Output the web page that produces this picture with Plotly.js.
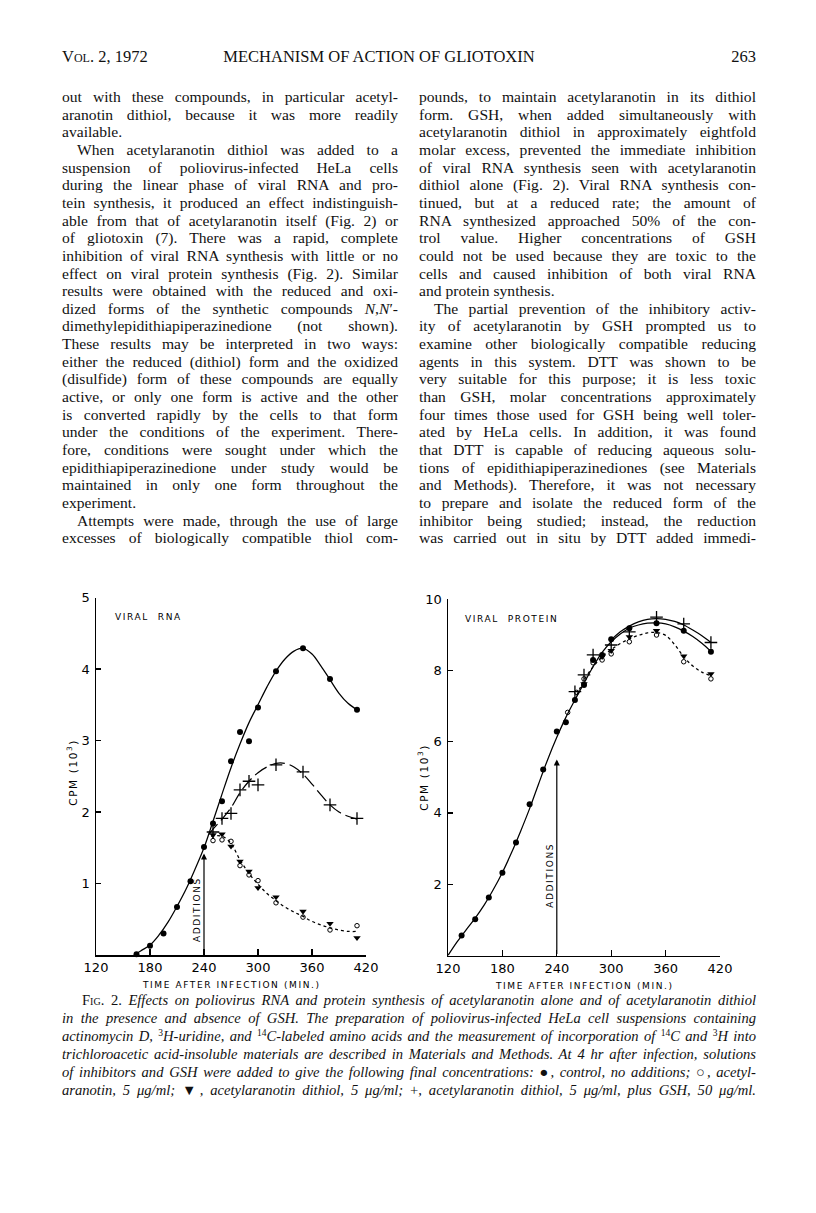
<!DOCTYPE html>
<html>
<head>
<meta charset="utf-8">
<script src="https://cdn.plot.ly/plotly-3.0.1.min.js"></script>
<style>
  html, body { margin:0; padding:0; background:#fff; }
  #page { position:relative; width:816px; height:1213px; overflow:hidden; background:#fff; }
  #plot { position:absolute; left:0; top:0; width:816px; height:1213px; }
  .ln { position:absolute; white-space:nowrap; font-family:'Liberation Serif','Times New Roman',serif; font-size:15.6px; line-height:17.6px; color:#111; text-align:justify; text-align-last:justify; box-sizing:border-box; }
  .ln.ind { padding-left:15px; }
  .ln.end { text-align-last:left; }
  .hdr { position:absolute; font-family:'Liberation Serif',serif; font-size:16.5px; color:#111; white-space:nowrap; }
  .cap { position:absolute; left:62px; width:694px; white-space:nowrap; font-family:'Liberation Serif',serif; font-style:italic; font-size:14.6px; line-height:18px; color:#111; text-align:justify; text-align-last:justify; box-sizing:border-box; }
  .cap sup { font-size:65%; line-height:0; vertical-align:0.5em; font-style:normal; }
  .sc { font-variant:small-caps; font-style:normal; }
  .up { font-style:normal; }
</style>
</head>
<body>
<div id="page">
  <div id="plot"></div>
  <div id="text"></div>
</div>
<script>
// ---------------- DATA: Viral RNA (left panel) ----------------
const rnaCtrlX = [165,180,195,210,225,240,250,260,270,280,290,300,320,350,380,410];
const rnaCtrlY = [0.01,0.13,0.30,0.67,1.03,1.51,1.84,2.15,2.71,3.12,2.99,3.46,3.97,4.29,3.86,3.43];
const rnaOpenX = [250,260,270,280,290,300,320,350,380,410];
const rnaOpenY = [1.60,1.61,1.59,1.25,1.12,1.04,0.73,0.53,0.35,0.41];
const rnaTriX  = [250,260,270,280,290,300,320,350,380,410];
const rnaTriY  = [1.68,1.69,1.52,1.31,1.17,0.94,0.81,0.61,0.44,0.24];
const rnaPlusX = [250,260,270,280,290,300,320,350,380,410];
const rnaPlusY = [1.72,1.91,1.98,2.31,2.43,2.38,2.66,2.56,2.10,1.91];
// hand-drawn curves
const rnaCtrlFitX = [163,170,180,190,200,210,220,230,240,250,260,270,280,290,300,310,320,330,340,350,360,370,380,390,400,410];
const rnaCtrlFitY = [0.00,0.06,0.14,0.28,0.46,0.68,0.92,1.20,1.50,1.87,2.25,2.62,2.95,3.25,3.50,3.75,3.97,4.14,4.25,4.29,4.21,4.04,3.85,3.66,3.52,3.43];
const rnaPlusFitX = [245,250,260,270,280,290,300,310,320,330,340,350,360,370,380,390,400,410];
const rnaPlusFitY = [1.68,1.76,1.90,2.06,2.27,2.43,2.55,2.63,2.68,2.68,2.63,2.53,2.39,2.24,2.10,2.00,1.94,1.90];
const rnaDotFitX = [248,255,262,270,280,290,300,310,320,330,340,350,360,370,380,390,400,410];
const rnaDotFitY = [1.66,1.67,1.65,1.56,1.33,1.14,0.99,0.86,0.76,0.67,0.60,0.54,0.47,0.42,0.38,0.35,0.33,0.33];

// ---------------- DATA: Viral protein (right panel) ----------------
const protCtrlX = [135,150,165,180,195,210,225,240,250,260,270,280,290,300,320,350,380,410];
const protCtrlY = [0.56,1.02,1.63,2.32,3.17,4.24,5.22,6.28,6.54,7.17,7.59,8.29,8.43,8.87,9.18,9.32,9.11,8.52];
const protOpenX = [252,262,270,280,290,300,320,350,380,410];
const protOpenY = [6.82,7.38,7.76,8.21,8.29,8.46,8.80,8.99,8.24,7.76];
const protTriX  = [270,290,300,320,350,380,410];
const protTriY  = [7.62,8.38,8.55,8.94,9.11,8.40,7.90];
const protPlusX = [260,270,280,300,320,350,380,410];
const protPlusY = [7.40,7.87,8.43,8.71,9.08,9.49,9.30,8.78];
const protCtrlFitX = [120,130,140,150,160,170,180,190,200,210,220,230,240,250,260,270,280,290,300,310,320,330,340,350,360,370,380,390,400,410];
const protCtrlFitY = [0.00,0.38,0.72,1.05,1.42,1.85,2.33,2.88,3.48,4.12,4.82,5.50,6.12,6.68,7.17,7.64,8.10,8.50,8.80,9.02,9.18,9.27,9.32,9.33,9.30,9.22,9.10,8.95,8.76,8.53];
const protPlusFitX = [300,310,320,330,340,350,360,370,380,390,400,410];
const protPlusFitY = [8.85,9.08,9.24,9.36,9.43,9.45,9.43,9.37,9.27,9.13,8.97,8.78];
const protDotFitX = [262,270,280,290,300,310,320,330,340,350,360,370,380,390,400,410];
const protDotFitY = [7.30,7.72,8.10,8.38,8.58,8.75,8.88,8.98,9.05,9.06,8.98,8.72,8.38,8.12,7.95,7.85];

// ---------------- axis ticks ----------------
const xTicks = [120,180,240,300,360,420];
const rnaYTicks = [1,2,3,4,5];
const protYTicks = [2,4,6,8,10];
const additionTime = 240;
const rnaArrowTop = 1.42;
const protArrowTop = 5.5;

// ---------------- page text ----------------
const headerLeft = '<span style="font-variant:small-caps">Vol.</span> 2, 1972';
const headerMid = 'MECHANISM OF ACTION OF GLIOTOXIN';
const headerRight = '263';
const leftLines = [
 ['out with these compounds, in particular acetyl-',''],
 ['aranotin dithiol, because it was more readily',''],
 ['available.','end'],
 ['When acetylaranotin dithiol was added to a','ind'],
 ['suspension of poliovirus-infected HeLa cells',''],
 ['during the linear phase of viral RNA and pro-',''],
 ['tein synthesis, it produced an effect indistinguish-',''],
 ['able from that of acetylaranotin itself (Fig. 2) or',''],
 ['of gliotoxin (7). There was a rapid, complete',''],
 ['inhibition of viral RNA synthesis with little or no',''],
 ['effect on viral protein synthesis (Fig. 2). Similar',''],
 ['results were obtained with the reduced and oxi-',''],
 ['dized forms of the synthetic compounds <i>N</i>,<i>N</i>\u2032-',''],
 ['dimethylepidithiapiperazinedione (not shown).',''],
 ['These results may be interpreted in two ways:',''],
 ['either the reduced (dithiol) form and the oxidized',''],
 ['(disulfide) form of these compounds are equally',''],
 ['active, or only one form is active and the other',''],
 ['is converted rapidly by the cells to that form',''],
 ['under the conditions of the experiment. There-',''],
 ['fore, conditions were sought under which the',''],
 ['epidithiapiperazinedione under study would be',''],
 ['maintained in only one form throughout the',''],
 ['experiment.','end'],
 ['Attempts were made, through the use of large','ind'],
 ['excesses of biologically compatible thiol com-','']
];
const rightLines = [
 ['pounds, to maintain acetylaranotin in its dithiol',''],
 ['form. GSH, when added simultaneously with',''],
 ['acetylaranotin dithiol in approximately eightfold',''],
 ['molar excess, prevented the immediate inhibition',''],
 ['of viral RNA synthesis seen with acetylaranotin',''],
 ['dithiol alone (Fig. 2). Viral RNA synthesis con-',''],
 ['tinued, but at a reduced rate; the amount of',''],
 ['RNA synthesized approached 50% of the con-',''],
 ['trol value. Higher concentrations of GSH',''],
 ['could not be used because they are toxic to the',''],
 ['cells and caused inhibition of both viral RNA',''],
 ['and protein synthesis.','end'],
 ['The partial prevention of the inhibitory activ-','ind'],
 ['ity of acetylaranotin by GSH prompted us to',''],
 ['examine other biologically compatible reducing',''],
 ['agents in this system. DTT was shown to be',''],
 ['very suitable for this purpose; it is less toxic',''],
 ['than GSH, molar concentrations approximately',''],
 ['four times those used for GSH being well toler-',''],
 ['ated by HeLa cells. In addition, it was found',''],
 ['that DTT is capable of reducing aqueous solu-',''],
 ['tions of epidithiapiperazinediones (see Materials',''],
 ['and Methods). Therefore, it was not necessary',''],
 ['to prepare and isolate the reduced form of the',''],
 ['inhibitor being studied; instead, the reduction',''],
 ['was carried out in situ by DTT added immedi-','']
];
const captionLines = [
 ['<span class="sc">Fig. 2.</span> Effects on poliovirus RNA and protein synthesis of acetylaranotin alone and of acetylaranotin dithiol','ind'],
 ['in the presence and absence of GSH. The preparation of poliovirus-infected HeLa cell suspensions containing',''],
 ['actinomycin D, <sup>3</sup>H-uridine, and <sup>14</sup>C-labeled amino acids and the measurement of incorporation of <sup>14</sup>C and <sup>3</sup>H into',''],
 ['trichloroacetic acid-insoluble materials are described in Materials and Methods. At 4 hr after infection, solutions',''],
 ['of inhibitors and GSH were added to give the following final concentrations: <span class="up">\u25CF</span>, control, no additions; <span class="up">\u25CB</span>, acetyl-',''],
 ['aranotin, 5 \u03BCg/ml; <span class="up">\u25BC</span>, acetylaranotin dithiol, 5 \u03BCg/ml; <span class="up">+</span>, acetylaranotin dithiol, 5 \u03BCg/ml, plus GSH, 50 \u03BCg/ml.','']
];

// ---------------- build text ----------------
(function(){
  const host = document.getElementById('text');
  function add(html, cls, style){
    const d = document.createElement('div');
    d.className = cls; d.setAttribute('style', style); d.innerHTML = html; host.appendChild(d);
  }
  add(headerLeft, 'hdr', 'left:62px;top:47px;');
  add(headerMid, 'hdr', 'left:0;width:758px;text-align:center;top:47px;');
  add(headerRight, 'hdr', 'right:60px;top:47px;');
  const top0 = 88, step = 17.65;
  leftLines.forEach((l,i)=> add(l[0], 'ln '+l[1], 'left:62px;width:336px;top:'+(top0+i*step)+'px;'));
  rightLines.forEach((l,i)=> add(l[0], 'ln '+l[1], 'left:419px;width:337px;top:'+(top0+i*step)+'px;'));
  captionLines.forEach((l,i)=> add(l[0], 'cap', 'top:'+(991+i*18)+'px;'+(l[1]==='ind'?'padding-left:20px;':'')));
})();

// ---------------- chart ----------------
const K = 'black';
const fontChart = 'DejaVu Sans, Liberation Sans, sans-serif';
function fit(x,y,xa,ya,dash){
  return {x:x,y:y,xaxis:xa,yaxis:ya,mode:'lines',line:{color:K,width:1.25,shape:'spline',smoothing:1,dash:dash},hoverinfo:'skip',showlegend:false};
}
function pts(x,y,xa,ya,sym,size,lw){
  return {x:x,y:y,xaxis:xa,yaxis:ya,mode:'markers',cliponaxis:false,
    marker:{symbol:sym,size:size,color:K,line:{color:K,width:lw}},showlegend:false};
}
const traces = [
  fit(rnaCtrlFitX,rnaCtrlFitY,'x','y','solid'),
  fit(rnaPlusFitX,rnaPlusFitY,'x','y','14px,5px'),
  fit(rnaDotFitX,rnaDotFitY,'x','y','3px,3px'),
  pts(rnaCtrlX,rnaCtrlY,'x','y','circle',6,0),
  pts(rnaOpenX,rnaOpenY,'x','y','circle-open',4.5,1),
  pts(rnaTriX,rnaTriY,'x','y','triangle-down',6.5,0),
  pts(rnaPlusX,rnaPlusY,'x','y','cross-thin-open',9,1.3),
  fit(protCtrlFitX,protCtrlFitY,'x2','y2','solid'),
  fit(protPlusFitX,protPlusFitY,'x2','y2','solid'),
  fit(protDotFitX,protDotFitY,'x2','y2','3px,3px'),
  pts(protCtrlX,protCtrlY,'x2','y2','circle',6,0),
  pts(protOpenX,protOpenY,'x2','y2','circle-open',4.5,1),
  pts(protTriX,protTriY,'x2','y2','triangle-down',6.5,0),
  pts(protPlusX,protPlusY,'x2','y2','cross-thin-open',9,1.3)
];
function xax(dom){
  return {domain:dom,range:[120,420],tickvals:xTicks,ticktext:xTicks.map(String),ticks:'inside',ticklen:6,tickwidth:1.3,tickcolor:K,
    showline:true,linecolor:K,linewidth:1.5,showgrid:false,zeroline:false,fixedrange:true,
    tickfont:{family:fontChart,size:13,color:K}};
}
function yax(dom,rng,tv,anchor){
  return {domain:dom,range:rng,anchor:anchor,tickvals:tv,ticktext:tv.map(String),ticks:'inside',ticklen:5,tickwidth:1.3,tickcolor:K,
    showline:true,linecolor:K,linewidth:1.5,showgrid:false,zeroline:false,fixedrange:true,ticklabelstandoff:2,
    tickfont:{family:fontChart,size:13,color:K}};
}
const smallFont = {family:fontChart,size:9,color:K};
const ls = s => '<span style="letter-spacing:1.6px">'+s+'</span>';
const annotations = [
  {xref:'x',yref:'y',axref:'x',ayref:'y',x:additionTime,y:rnaArrowTop,ax:additionTime,ay:0,text:'',showarrow:true,arrowhead:2,arrowsize:1,arrowwidth:1.2,arrowcolor:K,standoff:0},
  {xref:'x2',yref:'y2',axref:'x2',ayref:'y2',x:additionTime,y:protArrowTop,ax:additionTime,ay:0,text:'',showarrow:true,arrowhead:2,arrowsize:1,arrowwidth:1.2,arrowcolor:K,standoff:0},
  {xref:'x',yref:'y',x:additionTime,y:0.63,xshift:-7,text:ls('ADDITIONS'),textangle:-90,showarrow:false,font:smallFont},
  {xref:'x2',yref:'y2',x:additionTime,y:2.26,xshift:-7,text:ls('ADDITIONS'),textangle:-90,showarrow:false,font:smallFont},
  {xref:'x domain',yref:'y domain',x:0.063,y:0.965,xanchor:'left',text:ls('VIRAL  RNA'),showarrow:false,font:smallFont},
  {xref:'x2 domain',yref:'y2 domain',x:0.056,y:0.963,xanchor:'left',text:ls('VIRAL  PROTEIN'),showarrow:false,font:smallFont},
  {xref:'x domain',yref:'y domain',x:-0.12,y:0.51,text:ls('CPM (10<sup>3</sup>)'),textangle:-90,showarrow:false,font:{family:fontChart,size:10.5,color:K}},
  {xref:'x2 domain',yref:'y2 domain',x:-0.125,y:0.50,text:ls('CPM (10<sup>3</sup>)'),textangle:-90,showarrow:false,font:{family:fontChart,size:10.5,color:K}},
  {xref:'x domain',yref:'y domain',x:0.5,y:-0.104,text:ls('TIME AFTER INFECTION (MIN.)'),showarrow:false,font:smallFont},
  {xref:'x2 domain',yref:'y2 domain',x:0.5,y:-0.104,text:ls('TIME AFTER INFECTION (MIN.)'),showarrow:false,font:smallFont}
];
const layout = {
  width:816,height:1213,margin:{l:0,r:0,t:0,b:0},paper_bgcolor:'#fff',plot_bgcolor:'rgba(0,0,0,0)',
  showlegend:false,
  xaxis:Object.assign(xax([96/816,366/816]),{anchor:'y'}),
  yaxis:yax([(1213-955)/1213,(1213-597.5)/1213],[0,5],rnaYTicks,'x'),
  xaxis2:Object.assign(xax([448/816,720/816]),{anchor:'y2'}),
  yaxis2:yax([(1213-955.5)/1213,(1213-599)/1213],[0,10],protYTicks,'x2'),
  annotations:annotations
};
Plotly.newPlot('plot',traces,layout,{staticPlot:true,displayModeBar:false});
</script>
</body>
</html>
